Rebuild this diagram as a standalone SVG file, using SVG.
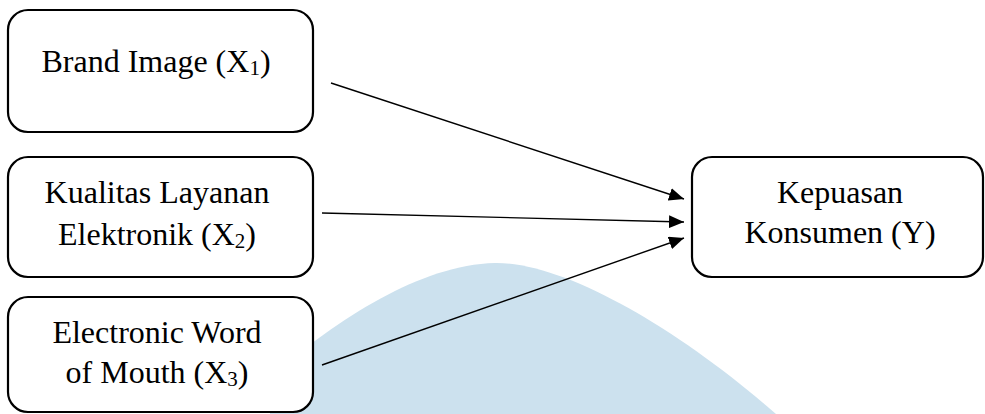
<svg xmlns="http://www.w3.org/2000/svg" width="985" height="414" viewBox="0 0 985 414">
<style>
.box{fill:#ffffff;stroke:#000000;stroke-width:2.2}
.lbl{font-family:'Liberation Serif','Times New Roman',serif;font-size:32px;fill:#000000;text-anchor:middle}
.sub{font-size:21px}
.edge{stroke:#000000;stroke-width:1.4;fill:none;marker-end:url(#ah)}
</style>
<defs>
<marker id="ah" markerWidth="15" markerHeight="13" refX="15" refY="6.5" orient="auto" markerUnits="userSpaceOnUse">
<path d="M0,0 L15,6.5 L0,13 Z" fill="#000000"/>
</marker>
</defs>
<rect width="985" height="414" fill="#ffffff"/>
<path d="M 270 414 L 270 376 C 340 318, 420 265, 495 263 C 565 262, 680 330, 776 414 Z" fill="#cce1ee"/>
<g id="connectors">
<line class="edge" x1="331" y1="83" x2="684" y2="199"/>
<line class="edge" x1="322" y1="213" x2="684" y2="222"/>
<line class="edge" x1="322" y1="365" x2="684" y2="238"/>
</g>
<g id="node-x1">
<rect class="box" x="8" y="10" width="305" height="122" rx="20"/>
<text class="lbl" x="156" y="72">Brand Image (X<tspan class="sub" dy="3">1</tspan><tspan dy="-3">)</tspan></text>
</g>
<g id="node-x2">
<rect class="box" x="8" y="157" width="305" height="120" rx="20"/>
<text class="lbl" x="157" y="203">Kualitas Layanan</text>
<text class="lbl" x="157" y="245">Elektronik (X<tspan class="sub" dy="3">2</tspan><tspan dy="-3">)</tspan></text>
</g>
<g id="node-x3">
<rect class="box" x="8" y="297" width="305" height="115" rx="20"/>
<text class="lbl" x="157" y="343">Electronic Word</text>
<text class="lbl" x="157" y="383">of Mouth (X<tspan class="sub" dy="3">3</tspan><tspan dy="-3">)</tspan></text>
</g>
<g id="node-y">
<rect class="box" x="692" y="157" width="291" height="120" rx="20"/>
<text class="lbl" x="840" y="203">Kepuasan</text>
<text class="lbl" x="840" y="243">Konsumen (Y)</text>
</g>
</svg>
